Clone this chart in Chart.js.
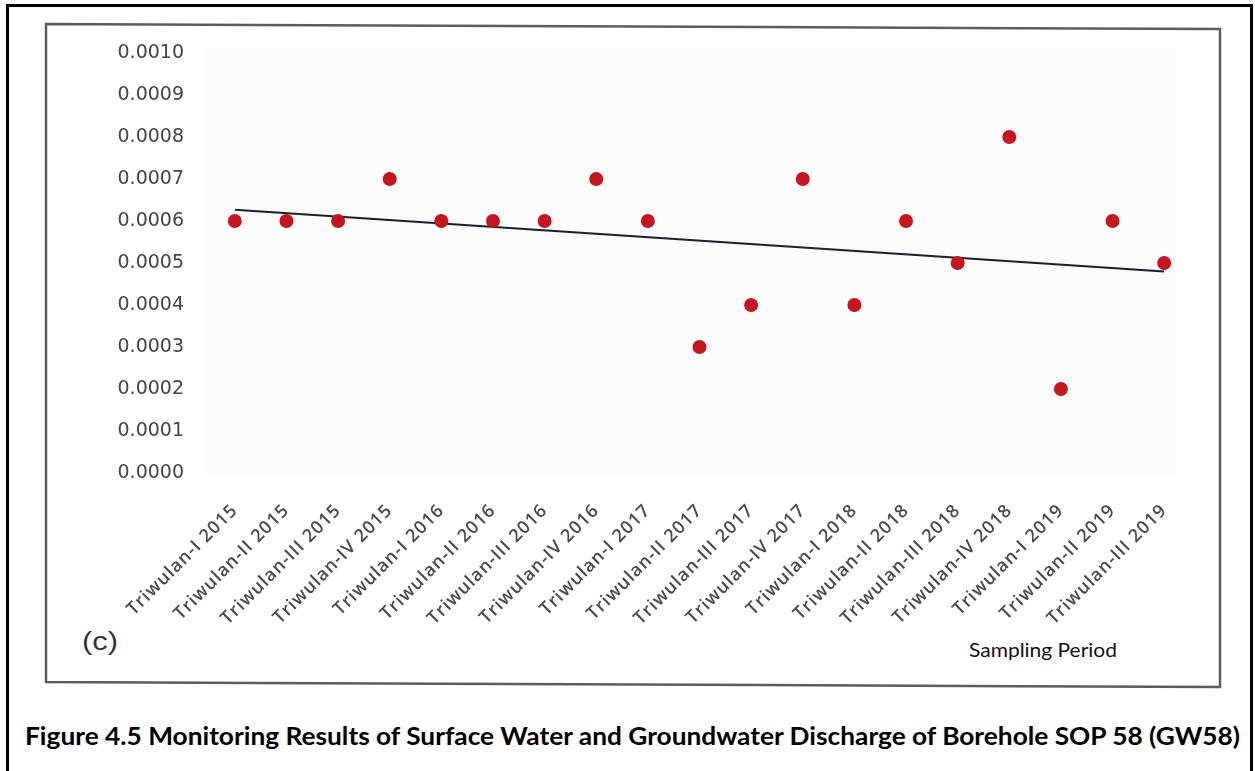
<!DOCTYPE html>
<html>
<head>
<meta charset="utf-8">
<script src="https://cdn.jsdelivr.net/npm/chart.js@4.4.1/dist/chart.umd.min.js"></script>
<style>
  html, body { margin: 0; padding: 0; background: #fff; }
  #wrap { position: relative; width: 1255px; height: 771px; overflow: hidden; }
  #deco, #plot { position: absolute; left: 0; top: 0; }
</style>
</head>
<body>
<div id="wrap">
  <svg id="deco" width="1255" height="771" xmlns="http://www.w3.org/2000/svg">
    <rect x="7.5" y="5.5" width="1244" height="800" fill="none" stroke="#000" stroke-width="3"/>
    <path d="M46 24 L1220 29 L1220 687 L46 682 Z" fill="none" stroke="#5c5c5c" stroke-width="2.5"/>
    <text x="82" y="650" font-family="Liberation Sans, Arial, sans-serif" font-size="25" fill="#333"
          textLength="36" lengthAdjust="spacingAndGlyphs">(c)</text>
    <text x="969" y="657" font-family="Lato, sans-serif" font-size="19" fill="#111"
          textLength="148" lengthAdjust="spacingAndGlyphs">Sampling Period</text>
    <text x="25" y="745" font-family="Lato, sans-serif" font-weight="bold" font-size="24" fill="#000"
          textLength="1215" lengthAdjust="spacingAndGlyphs">Figure 4.5 Monitoring Results of Surface Water and Groundwater Discharge of Borehole SOP 58 (GW58)</text>
  </svg>
  <canvas id="plot" width="1255" height="771"></canvas>
</div>
<script>
// Sampling periods (quarters) on the horizontal axis
const periods = [
  'Triwulan-I 2015', 'Triwulan-II 2015', 'Triwulan-III 2015', 'Triwulan-IV 2015',
  'Triwulan-I 2016', 'Triwulan-II 2016', 'Triwulan-III 2016', 'Triwulan-IV 2016',
  'Triwulan-I 2017', 'Triwulan-II 2017', 'Triwulan-III 2017', 'Triwulan-IV 2017',
  'Triwulan-I 2018', 'Triwulan-II 2018', 'Triwulan-III 2018', 'Triwulan-IV 2018',
  'Triwulan-I 2019', 'Triwulan-II 2019', 'Triwulan-III 2019'
];

// Measured values per period
const measured = [
  0.0006, 0.0006, 0.0006, 0.0007,
  0.0006, 0.0006, 0.0006, 0.0007,
  0.0006, 0.0003, 0.0004, 0.0007,
  0.0004, 0.0006, 0.0005, 0.0008,
  0.0002, 0.0006, 0.0005
];

// Linear trend line: value at the first and at the last period
const trendEnds = [0.000627, 0.000480];

// Vertical axis ticks
const yTicks = [0, 0.0001, 0.0002, 0.0003, 0.0004, 0.0005, 0.0006, 0.0007, 0.0008, 0.0009, 0.0010];

const areaTint = {
  id: 'areaTint',
  beforeDraw(chart) {
    const { ctx, chartArea: a } = chart;
    ctx.save();
    ctx.fillStyle = '#fbfbfb';
    ctx.fillRect(a.left - 4, a.top - 4, a.right - a.left - 10, a.bottom - a.top + 4);
    ctx.restore();
  }
};

// Draw the slanted period labels with a little extra tracking
function spacedLabels(scale) {
  if (scale._spaced) return;
  const drawLabels = scale.drawLabels;
  scale.drawLabels = function (area) {
    const c = this.ctx;
    c.save();
    c.letterSpacing = '1px';
    drawLabels.call(this, area);
    c.restore();
  };
  scale._spaced = true;
}

new Chart(document.getElementById('plot'), {
  type: 'line',
  data: {
    labels: periods,
    datasets: [
      {
        label: 'Measured',
        data: measured,
        showLine: false,
        pointRadius: 7,
        pointHoverRadius: 7,
        pointBackgroundColor: '#c4161c',
        pointBorderWidth: 0,
        order: 0
      },
      {
        label: 'Trend',
        data: [
          { x: periods[0], y: trendEnds[0] },
          { x: periods[periods.length - 1], y: trendEnds[1] }
        ],
        borderColor: '#1e1f2e',
        borderWidth: 2,
        pointRadius: 0,
        fill: false,
        order: 1
      }
    ]
  },
  options: {
    responsive: false,
    animation: false,
    events: [],
    layout: { padding: { left: 0, right: 65, top: 53, bottom: 138 } },
    plugins: { legend: { display: false }, tooltip: { enabled: false } },
    scales: {
      x: {
        type: 'category',
        offset: true,
        grid: { display: false, drawTicks: false },
        border: { display: false },
        ticks: {
          autoSkip: false,
          minRotation: 45,
          maxRotation: 45,
          padding: 27,
          color: '#4a4a4a',
          font: { family: 'Open Sans', size: 18, weight: '600' }
        },
        afterFit(scale) { scale.height = 160; spacedLabels(scale); }
      },
      y: {
        min: 0,
        max: 0.001,
        grid: { display: false, drawTicks: false },
        border: { display: false },
        afterBuildTicks(scale) { scale.ticks = yTicks.map(v => ({ value: v })); },
        ticks: {
          padding: 25,
          color: '#444',
          font: { family: 'DejaVu Sans', size: 19 },
          callback: v => Number(v).toFixed(4)
        },
        afterFit(scale) { scale.width = 209; }
      }
    }
  },
  plugins: [areaTint]
});
</script>
</body>
</html>
